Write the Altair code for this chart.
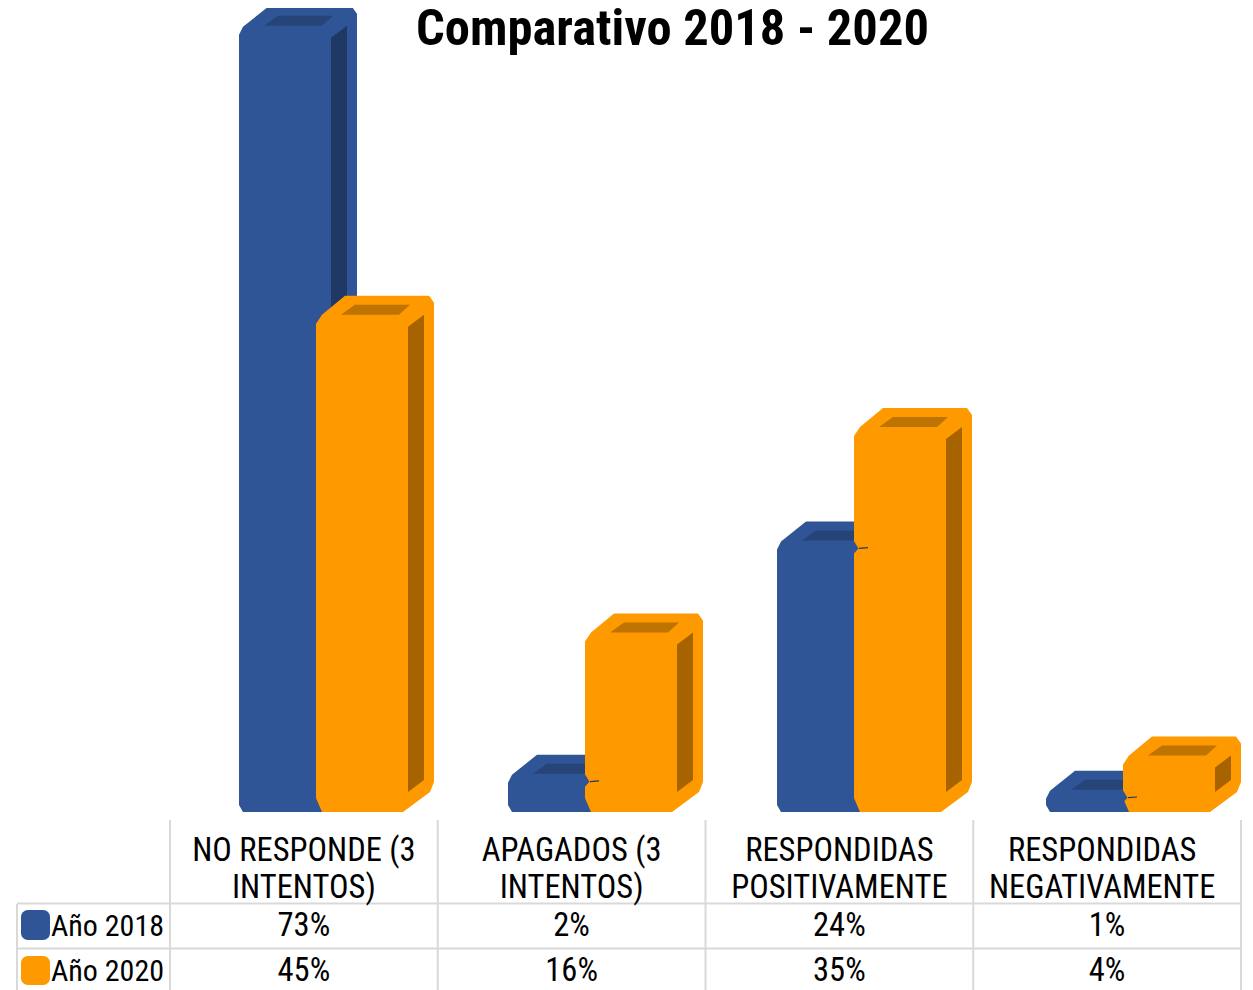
import altair as alt
import pandas as pd

alt.data_transformers.disable_max_rows()

TITLE = "Comparativo 2018 - 2020"
header_line1 = ["NO RESPONDE (3", "APAGADOS (3", "RESPONDIDAS", "RESPONDIDAS"]
header_line2 = ["INTENTOS)", "INTENTOS)", "POSITIVAMENTE", "NEGATIVAMENTE"]
series_names = ["Año 2018", "Año 2020"]
labels_2018 = ["73%", "2%", "24%", "1%"]
labels_2020 = ["45%", "16%", "35%", "4%"]
# heights
values_2018 = [72.4, 2.5, 24.3, 1.0]
values_2020 = [45.4, 15.7, 34.9, 4.2]

FONT = "Roboto Condensed"
BLUE, BLUE_TOP, BLUE_SIDE = "#2F5597", "#264478", "#203864"
ORANGE, ORANGE_TOP, ORANGE_SIDE = "#FF9900", "#BF7300", "#A66300"
GRID = "#D9D9D9"

W, H = 1237, 982
PX_PER_CAT = 267.75
BAR_STEP = 269
PX_PER_UNIT = 10.7
x_dom = [(8 - 170) / PX_PER_CAT, (8 + W - 170) / PX_PER_CAT]
y_dom = [(812 - 8 - H) / PX_PER_UNIT, (812 - 8) / PX_PER_UNIT]
x_scale = alt.Scale(domain=x_dom, range=[0, W], nice=False, zero=False)
y_scale = alt.Scale(domain=y_dom, range=[H, 0], nice=False, zero=False)
DEPTH = 30.5 / PX_PER_UNIT


def dx(px):
    return px / PX_PER_CAT


def dy(px):
    return px / PX_PER_UNIT


SILH_2018 = [(0, 28, 7), (4, 20, 0), (29, 0, 0), (87, 0, 0), (113, 0, 19.3), (114, 1.4, 20), (118, 7, 30)]
SILH_2020 = [(0, 28, 14), (6, 19, 0), (29, 0, 0), (87, 0, 0), (113, 0, 19.3), (114, 1.4, 20), (118, 7, 30)]
SIDE = [(92, 31, 20), (108, 19, 32)]
TOP = [(25, 19, None), (39, 9, None), (83, 9, None), (94, 9, None)]
TOP_LOW = {25: 19, 39: 19, 83: 19, 94: 9}
BUMP = [(76, 18, 33), (81.5, 27, 27)]
DASH = [(82, 26.2, 27.4), (91, 25.6, 26.8)]


def face_rows(values, start_px, knots, kind, first=0):
    rows = []
    for k, v in enumerate(values):
        if k < first:
            continue
        top = v + DEPTH
        for (d, up, low) in knots:
            x = dx(start_px + k * BAR_STEP + d)
            y = top - dy(up)
            if kind == "top":
                y2 = top - dy(TOP_LOW[d])
            elif kind == "inner":
                y2 = top - dy(low)
            else:
                y2 = dy(low)
            rows.append({"x": x, "y": y, "y2": y2, "id": k})
    return pd.DataFrame(rows)


def area(df, color):
    return alt.Chart(df).mark_area(color=color, interpolate="linear", opacity=1, strokeWidth=0).encode(
        x=alt.X("x:Q", scale=x_scale, axis=None),
        y=alt.Y("y:Q", scale=y_scale, axis=None),
        y2="y2:Q",
        detail="id:N",
    )


layers = []
for vals, start, silh, main, topc, sidec in [
    (values_2018, 69, SILH_2018, BLUE, BLUE_TOP, BLUE_SIDE),
    (values_2020, 146, SILH_2020, ORANGE, ORANGE_TOP, ORANGE_SIDE),
]:
    layers.append(area(face_rows(vals, start, silh, "silh"), main))
    layers.append(area(face_rows(vals, start, TOP, "top"), topc))
    layers.append(area(face_rows(vals, start, SIDE, "side"), sidec))

# small blue notch where the 2018 bar meets the 2020 bar (second to fourth groups)
layers.append(area(face_rows(values_2018, 69, BUMP, "inner", first=1), BLUE))
layers.append(area(face_rows(values_2018, 69, DASH, "inner", first=1), BLUE_SIDE))

# table grid
col_edges = [0, 1, 2, 3, 4]
v_df = pd.DataFrame({"x": col_edges})
vrules = alt.Chart(v_df).mark_rule(color=GRID, strokeWidth=2).encode(
    x=alt.X("x:Q", scale=x_scale, axis=None), y=alt.value(812), y2=alt.value(982)
)
left_edge = dx(17 - 170)
vleft = alt.Chart(pd.DataFrame({"x": [left_edge]})).mark_rule(color=GRID, strokeWidth=2).encode(
    x=alt.X("x:Q", scale=x_scale, axis=None), y=alt.value(896), y2=alt.value(982)
)
h_df = pd.DataFrame({"x": [left_edge], "x2": [4], "row": [0]})
hrule1 = alt.Chart(h_df).mark_rule(color=GRID, strokeWidth=2).encode(
    x=alt.X("x:Q", scale=x_scale, axis=None), x2="x2:Q", y=alt.value(895.5)
)
hrule2 = alt.Chart(h_df).mark_rule(color=GRID, strokeWidth=2).encode(
    x=alt.X("x:Q", scale=x_scale, axis=None), x2="x2:Q", y=alt.value(940.5)
)


def text_layer(xs, texts, y_px, size=32.5, weight="normal", align="center"):
    df = pd.DataFrame({"x": xs, "t": texts})
    return alt.Chart(df).mark_text(
        font=FONT, fontSize=size, fontWeight=weight, color="#000000", align=align, baseline="alphabetic"
    ).encode(x=alt.X("x:Q", scale=x_scale, axis=None), y=alt.value(y_px), text="t:N")


centers = [k + 0.5 for k in range(4)]
head_x = [c + dx(s) for c, s in zip(centers, [0, 0, 0, -5])]
texts = [
    text_layer(head_x, header_line1, 853),
    text_layer(head_x, header_line2, 890),
    text_layer(centers, labels_2018, 928),
    text_layer(centers, labels_2020, 973),
    text_layer([dx(51 - 170)], [series_names[0]], 928, size=30, align="left"),
    text_layer([dx(51 - 170)], [series_names[1]], 973, size=30, align="left"),
    text_layer([dx(672.5 - 170)], [TITLE], 37, size=50.5, weight="bold"),
]


def swatch(color, y1, y2):
    df = pd.DataFrame({"x": [dx(21 - 170)], "x2": [dx(50 - 170)]})
    return alt.Chart(df).mark_rect(color=color, cornerRadius=7).encode(
        x=alt.X("x:Q", scale=x_scale, axis=None), x2="x2:Q", y=alt.value(y1), y2=alt.value(y2)
    )


chart = alt.layer(
    *layers, vrules, vleft, hrule1, hrule2, *texts, swatch(BLUE, 902, 932), swatch(ORANGE, 948, 977)
).properties(width=W, height=H, padding=0, autosize=alt.AutoSizeParams(type="none")).configure_view(stroke=None)

chart.save("out.html", embed_options={"renderer": "svg", "actions": False})
